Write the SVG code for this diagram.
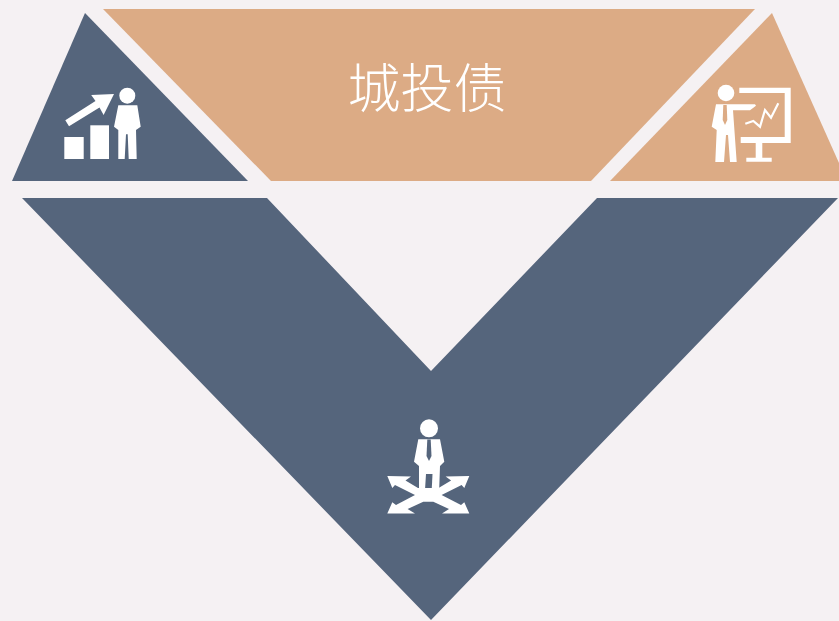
<svg xmlns="http://www.w3.org/2000/svg" width="839" height="621" viewBox="0 0 839 621">
<style>
.blue{fill:#55657c}
.tan{fill:#dcab85}
.w{fill:#fff}
.title{font-family:"Noto Sans CJK SC","Noto Sans CJK JP",serif;font-size:53px;font-weight:300;fill:#fff;text-anchor:middle}
</style>
<rect width="839" height="621" fill="#f5f1f3"/>
<g id="node-left">
<polygon class="blue" points="85,13 248,181 12,181"/>
<rect class="w" x="64.3" y="137" width="19.4" height="22"/>
<rect class="w" x="90.3" y="125.3" width="18.7" height="33.7"/>
<polygon class="w" points="114,94 91.2,95 95.5,101 65.3,120.3 69,126.3 99.5,107.5 103.6,115"/>
<circle class="w" cx="127.3" cy="95.7" r="8"/>
<polygon class="w" points="118.3,105.3 137.3,105.3 140.7,126.7 136,130 136.7,159 128.7,159 127.7,134.3 126,134.3 124.7,159 118.3,159 118.3,130 114,126.7"/>
</g>
<g id="node-top">
<polygon class="tan" points="103,9 755,9 591,181 271,181"/>
<text class="title" x="427" y="108">城投债</text>
</g>
<g id="node-right">
<polygon class="tan" points="772,13 847,181 610,181"/>
<circle class="w" cx="726" cy="93" r="8.3"/>
<polygon class="w" points="716,104.3 755,104.3 756,105.7 750,110.3 733,110.3 736.7,162 730,162 728,135 726,135 724,162 715.3,162 716.7,130 711.7,126.7"/>
<polygon class="tan" points="723.3,105 726.7,105 727.3,120 725,125 722.7,120"/>
<polygon class="w" points="739.3,87.7 790.7,87.7 790.7,143 740.7,143 740.7,137 784.7,137 784.7,93 739.3,93"/>
<polygon class="w" points="755.7,143 762.3,143 762.3,157.7 771.7,157.7 771.7,161.7 746.3,161.7 746.3,157.7 755.7,157.7"/>
<polyline points="745.3,123.7 753.3,121 760,126.7 765,110 771,117.7 778.3,103.3" fill="none" stroke="#fff" stroke-width="2.2"/>
</g>
<g id="node-bottom">
<polygon class="blue" points="22,198 267,198 431,371 597,198 838,198 431,620"/>
<circle class="w" cx="429" cy="428.3" r="9"/>
<polygon class="w" points="418.3,439.3 440,439.3 444.3,461.7 440,466 439,495 419,495 419,466 414,461.7"/>
<polygon class="blue" points="427.3,439.5 430.7,439.5 431.5,456 429,461 426.5,456"/>
<polygon class="blue" points="426,474 432.5,474 431.7,490 425,490"/>
<polygon class="w" points="387.3,476 411,476.5 405.5,480.5 418,488 438.6,488 451.1,480.5 445.6,476.5 469.3,476 464.3,488 461.6,485 441.6,495 461,505 464.3,502.3 469.3,513.5 442,513.5 449,509 433.3,501.7 423.3,501.7 407.6,509 415,513.5 387.3,513.5 392.3,502.3 396,505 415,495 395,485 392.3,488"/>
</g>
<g id="connectors"></g>
</svg>
